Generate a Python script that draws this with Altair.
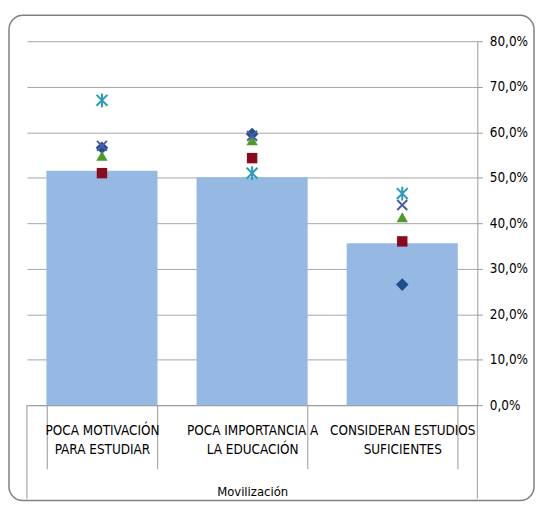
import altair as alt
import pandas as pd

categories = ["POCA MOTIVACIÓN|PARA ESTUDIAR", "POCA IMPORTANCIA A|LA EDUCACIÓN", "CONSIDERAN ESTUDIOS|SUFICIENTES"]
bar_values = [0.515, 0.501, 0.356]
s_diamond = [0.566, 0.596, 0.265]
s_square = [0.510, 0.543, 0.360]
s_triangle = [0.548, 0.582, 0.413]
s_xmark = [0.570, 0.592, 0.440]
s_star = [0.670, 0.510, 0.465]
y_ticks = [0, 0.1, 0.2, 0.3, 0.4, 0.5, 0.6, 0.7, 0.8]
axis_title = "Movilización"

FONT = "DejaVu Sans Condensed, Roboto, sans-serif"
W, H = 453, 366

df_bars = pd.DataFrame({"cat": categories, "v": bar_values})

xscale = alt.Scale(domain=categories, paddingInner=0.26, paddingOuter=0.13)
yscale = alt.Scale(domain=[0, 0.8])

x_axis = alt.Axis(
    title=axis_title, labelAngle=0, labelExpr="split(datum.label, '|')",
    labelFont=FONT, labelFontSize=13.5, labelColor="#000000", labelLineHeight=19,
    labelPadding=-45, tickBand="extent", tickSize=64, tickColor="#999999",
    domainColor="#999999", titleFont=FONT, titleFontSize=13, titleFontWeight="normal",
    titleColor="#000000", titlePadding=16,
)
y_axis = alt.Axis(
    orient="right", values=y_ticks, title=None,
    labelExpr="replace(format(datum.value, '.1%'), '.', ',')",
    labelFont=FONT, labelFontSize=13.5, labelColor="#000000", labelPadding=7,
    tickSize=5, tickColor="#999999", domainColor="#999999",
    grid=True, gridColor="#a6a6a6", gridWidth=1,
)

X = alt.X("cat:N", scale=xscale, axis=x_axis, sort=categories)
Y = alt.Y("v:Q", scale=yscale, axis=y_axis)

bars = alt.Chart(df_bars).mark_bar(color="#95B9E2").encode(x=X, y=Y)

series = [
    (s_diamond, "diamond", True, "#1F4E8C", 160),
    (s_square, "square", True, "#8B0A1E", 110),
    (s_triangle, "triangle-up", True, "#4E9A2A", 130),
    (s_xmark, "M-1,-1L1,1M-1,1L1,-1", False, "#4A5BA8", 100),
    (s_star, "M-1,-1L1,1M-1,1L1,-1M0,-1.25L0,1.25", False, "#2A9CB8", 120),
]
layers = [bars]
for vals, shape, filled, color, size in series:
    d = pd.DataFrame({"cat": categories, "v": vals})
    layers.append(
        alt.Chart(d).mark_point(shape=shape, filled=filled, color=color, size=size,
                                opacity=1, strokeWidth=2 if not filled else 1).encode(x=X, y=Y)
    )

one = pd.DataFrame({"a": [0]})
edge_l = alt.Chart(one).mark_rule(color="#999999", strokeWidth=1).encode(
    x=alt.value(0), y=alt.value(H), y2=alt.value(H + 94)
)
edge_r = alt.Chart(one).mark_rule(color="#999999", strokeWidth=1).encode(
    x=alt.value(W), y=alt.value(H), y2=alt.value(H + 94)
)
border = alt.Chart(one).mark_rect(fillOpacity=0, stroke="#808080", strokeWidth=1.5,
                                  cornerRadius=14).encode(
    x=alt.value(-18), x2=alt.value(510), y=alt.value(-26), y2=alt.value(462)
)

chart = alt.layer(*layers, edge_l, edge_r, border).properties(
    width=W, height=H,
    autosize=alt.AutoSizeParams(type="none"),
    padding={"left": 19, "top": 32, "right": 58, "bottom": 97},
    background="white",
).configure_view(stroke=None)

chart.save("out.html", embed_options={"renderer": "svg", "actions": False})
